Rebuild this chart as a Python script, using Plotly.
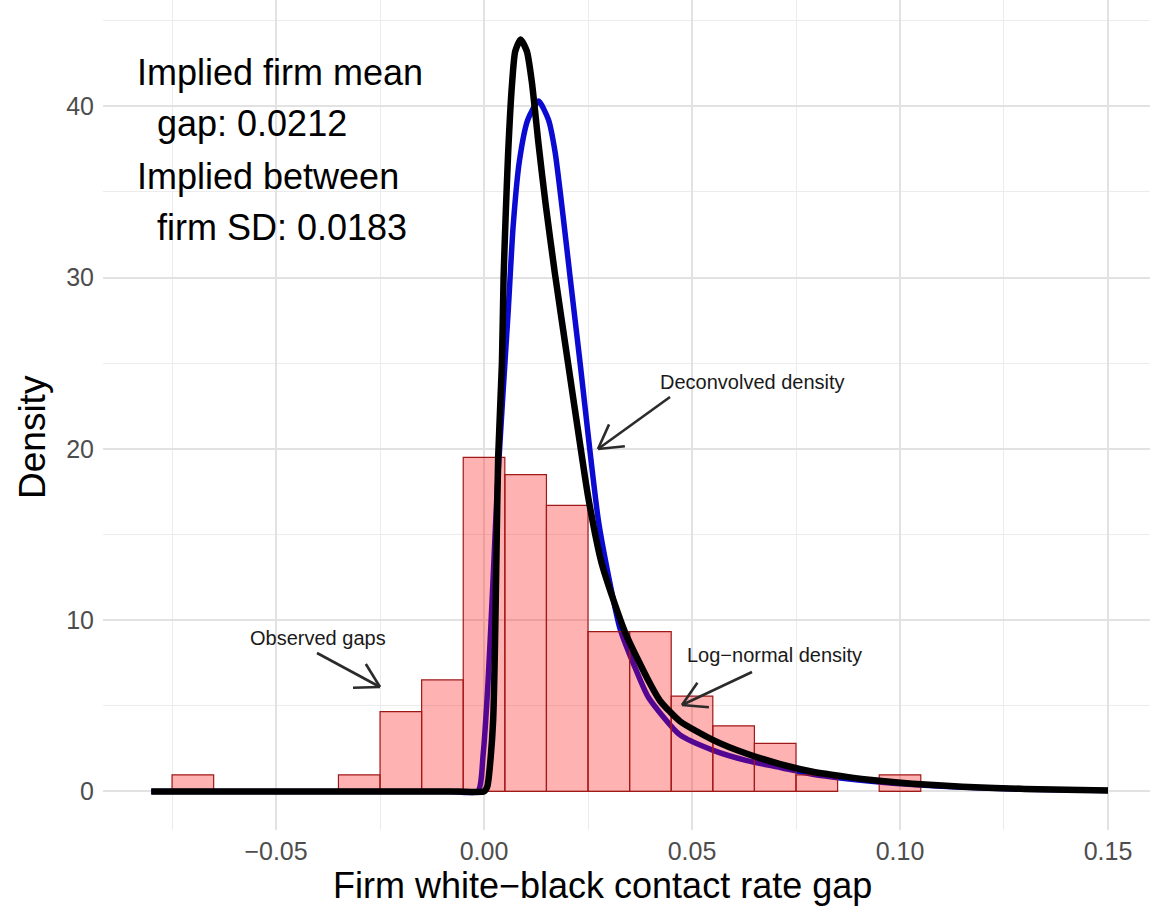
import math
import plotly.graph_objects as go

# ---------------- data ----------------
bin_centers = [-0.07, -0.03, -0.02, -0.01, 0.00, 0.01, 0.02, 0.03, 0.04, 0.05, 0.06, 0.07, 0.08, 0.10]
bin_density = [0.97, 0.97, 4.66, 6.51, 19.5, 18.5, 16.7, 9.33, 9.33, 5.57, 3.83, 2.81, 0.97, 0.97]
bin_width = 0.01

lognormal_x = [-0.08, -0.06, -0.04, -0.02, -0.006, 0.0, 0.0008, 0.0016, 0.0022, 0.0026, 0.003,
               0.0034, 0.0043, 0.0047, 0.0052, 0.0058, 0.0067, 0.0075, 0.0088, 0.0103, 0.0115,
               0.0131, 0.0148, 0.0170, 0.0202, 0.0235, 0.0251, 0.0283, 0.0339, 0.0399, 0.0423,
               0.0471, 0.0551, 0.0632, 0.0712, 0.079, 0.0872, 0.095, 0.103, 0.115, 0.13, 0.15]
lognormal_y = [0, 0, 0, 0, 0, 0, 0.3, 2.0, 4.2, 8.1, 14.0,
               19.5, 25.0, 30.0, 33.6, 37.3, 41.2, 43.2, 43.9, 43.2, 41.4,
               37.8, 34.3, 30.3, 25.0, 19.6, 17.1, 13.3, 9.3, 6.3, 5.3,
               4.1, 3.0, 2.2, 1.6, 1.15, 0.85, 0.62, 0.45, 0.28, 0.15, 0.06]

deconv_x = [-0.08, -0.06, -0.04, -0.02, -0.008, -0.0015, -0.0002, 0.0009, 0.0021, 0.0032,
            0.0045, 0.0058, 0.007, 0.0085, 0.0105, 0.0131, 0.0155, 0.0171, 0.019, 0.0207,
            0.0231, 0.0255, 0.0275, 0.0295, 0.0327, 0.0367, 0.0395, 0.0471, 0.0551, 0.0632,
            0.0712, 0.079, 0.095, 0.11, 0.13, 0.15]
deconv_y = [0, 0, 0, 0, 0, 0, 2.2, 6.1, 12.0, 17.8,
            23.0, 28.0, 33.0, 36.8, 39.2, 40.3, 39.2, 37.3, 33.6, 30.0,
            25.0, 19.8, 15.8, 13.1, 9.5, 7.0, 5.5, 3.3, 2.4, 1.8,
            1.4, 1.0, 0.55, 0.3, 0.13, 0.05]

x_ticks = [-0.05, 0.00, 0.05, 0.10, 0.15]
y_ticks = [0, 10, 20, 30, 40]

info_lines = ["Implied firm mean", "gap: 0.0212", "Implied between", "firm SD: 0.0183"]

# ---------------- layout geometry ----------------
W, H = 1150, 908
PL, PR, PT, PB = 103, 1150, 0, 830
X_RANGE = [-0.0916, 0.1601]
Y_RANGE = [-2.25, 46.2]
FONT = "Liberation Sans, Arial, sans-serif"


def px_to_x(px):
    return X_RANGE[0] + (px - PL) / (PR - PL) * (X_RANGE[1] - X_RANGE[0])


def py_to_y(py):
    return Y_RANGE[1] - (py - PT) / (PB - PT) * (Y_RANGE[1] - Y_RANGE[0])


def px_paper(px):
    return (px - PL) / (PR - PL)


def py_paper(py):
    return (PB - py) / (PB - PT)


fig = go.Figure()

# blue deconvolved density (below the bars)
fig.add_trace(go.Scatter(x=deconv_x, y=deconv_y, mode="lines",
                         line=dict(color="rgb(10,10,210)", width=5.5, shape="spline", smoothing=0.6),
                         xaxis="x", yaxis="y", showlegend=False, hoverinfo="skip"))

# histogram bars (overlay subplot so they sit above the blue curve)
fig.add_trace(go.Bar(x=bin_centers, y=bin_density, width=bin_width,
                     marker=dict(color="rgba(255,0,0,0.30)", line=dict(color="rgb(160,25,25)", width=1.2)),
                     xaxis="x2", yaxis="y2", showlegend=False, hoverinfo="skip"))

# black log-normal density (on top)
fig.add_trace(go.Scatter(x=lognormal_x, y=lognormal_y, mode="lines",
                         line=dict(color="black", width=6.5, shape="spline", smoothing=0.6),
                         xaxis="x2", yaxis="y2", showlegend=False, hoverinfo="skip"))

grid_major = "#e2e2e2"
grid_minor = "#ececec"

fig.update_layout(
    width=W, height=H,
    margin=dict(l=PL, r=W - PR, t=PT, b=H - PB, pad=0),
    paper_bgcolor="white", plot_bgcolor="white",
    font=dict(family=FONT),
    barmode="overlay",
    xaxis=dict(range=X_RANGE, tickvals=x_ticks, tickformat=".2f", showgrid=True,
               gridcolor=grid_major, gridwidth=1.8, zeroline=False, showline=False, ticks="",
               tickfont=dict(size=25, color="#4d4d4d", family=FONT), ticklabelstandoff=4,
               minor=dict(tick0=0, dtick=0.025, showgrid=True, gridcolor=grid_minor, gridwidth=1.2),
               fixedrange=True),
    yaxis=dict(range=Y_RANGE, tickvals=y_ticks, showgrid=True,
               gridcolor=grid_major, gridwidth=1.8, zeroline=False, showline=False, ticks="",
               tickfont=dict(size=25, color="#4d4d4d", family=FONT), ticklabelstandoff=8,
               minor=dict(tick0=0, dtick=5, showgrid=True, gridcolor=grid_minor, gridwidth=1.2),
               fixedrange=True),
    xaxis2=dict(range=X_RANGE, overlaying="x", visible=False, showgrid=False, zeroline=False),
    yaxis2=dict(range=Y_RANGE, overlaying="y", visible=False, showgrid=False, zeroline=False),
)

# axis titles
fig.add_annotation(text="Firm white\u2212black contact rate gap", xref="paper", yref="paper",
                   x=px_paper(602), y=py_paper(885), xanchor="center", yanchor="middle",
                   showarrow=False, font=dict(size=36, color="black", family=FONT))
fig.add_annotation(text="Density", xref="paper", yref="paper", textangle=-90,
                   x=px_paper(33), y=py_paper(437), xanchor="center", yanchor="middle",
                   showarrow=False, font=dict(size=37, color="black", family=FONT))

# implied-moment text block (top left)
info_pos = [(135, 72), (155, 124), (135, 176), (155, 227)]
for txt, (px, py) in zip(info_lines, info_pos):
    fig.add_annotation(text=txt, xref="paper", yref="paper", x=px_paper(px), y=py_paper(py),
                       xanchor="left", yanchor="middle", showarrow=False,
                       font=dict(size=36, color="black", family=FONT))

# labelled arrows
labels = [
    ("Observed gaps", (318, 638), (317, 653), (380, 687)),
    ("Deconvolved density", (752, 382), (670, 397), (598, 449)),
    ("Log\u2212normal density", (774, 655), (752, 672), (682, 705)),
]
arrow_color = "#2b2b2b"
for txt, (lx, ly), (tx, ty), (hx, hy) in labels:
    fig.add_annotation(text=txt, xref="paper", yref="paper", x=px_paper(lx), y=py_paper(ly),
                       xanchor="center", yanchor="middle", showarrow=False,
                       font=dict(size=20, color="#1a1a1a", family=FONT))
    fig.add_shape(type="line", xref="x", yref="y", x0=px_to_x(tx), y0=py_to_y(ty),
                  x1=px_to_x(hx), y1=py_to_y(hy), line=dict(color=arrow_color, width=2.6), layer="above")
    ang = math.atan2(ty - hy, tx - hx)
    for d in (math.radians(30), -math.radians(30)):
        wx = hx + 27 * math.cos(ang + d)
        wy = hy + 27 * math.sin(ang + d)
        fig.add_shape(type="line", xref="x", yref="y", x0=px_to_x(hx), y0=py_to_y(hy),
                      x1=px_to_x(wx), y1=py_to_y(wy), line=dict(color=arrow_color, width=2.6),
                      layer="above")

fig.write_html("out.html")
